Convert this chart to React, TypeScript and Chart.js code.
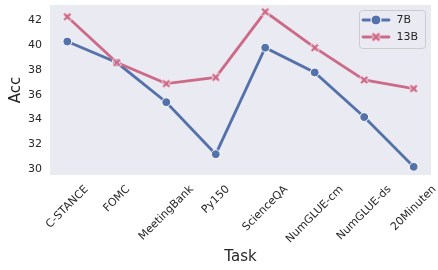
import React, { useEffect, useRef } from "react";
import { Chart, registerables } from "chart.js";
Chart.register(...registerables);

const tasks = ["C-STANCE", "FOMC", "MeetingBank", "Py150", "ScienceQA", "NumGLUE-cm", "NumGLUE-ds", "20Minuten"];
const acc7B = [40.3, 38.6, 35.4, 31.2, 39.8, 37.8, 34.2, 30.18];
const acc13B = [42.3, 38.6, 36.9, 37.4, 42.7, 39.8, 37.2, 36.5];
const yTicks = [30, 32, 34, 36, 38, 40, 42];
const seriesNames = ["7B", "13B"];

const FONT = '"DejaVu Sans", sans-serif';
const TEXT = "#262626";
const BLUE = "#5371AA";
const PINK = "#CC6A88";

function makeX(size: number, color: string): HTMLCanvasElement {
  const c = document.createElement("canvas");
  const dim = Math.ceil(size + 4);
  c.width = dim;
  c.height = dim;
  const ctx = c.getContext("2d")!;
  ctx.translate(dim / 2, dim / 2);
  ctx.rotate(Math.PI / 4);
  const s = size / 6;
  const pts = [[-1, -3], [-1, -1], [-3, -1], [-3, 1], [-1, 1], [-1, 3], [1, 3], [1, 1], [3, 1], [3, -1], [1, -1], [1, -3]];
  ctx.beginPath();
  pts.forEach(([x, y], i) => (i ? ctx.lineTo(x * s, y * s) : ctx.moveTo(x * s, y * s)));
  ctx.closePath();
  ctx.fillStyle = color;
  ctx.fill();
  ctx.strokeStyle = "#ffffff";
  ctx.lineWidth = 0.9;
  ctx.lineJoin = "miter";
  ctx.stroke();
  return c;
}

export default function App() {
  const ref = useRef<HTMLCanvasElement | null>(null);
  useEffect(() => {
    document.body.style.margin = "0";
    const xImg = makeX(9.5, PINK);
    const xImgLegend = makeX(10.5, PINK);

    const bgPlugin = {
      id: "bg",
      beforeDraw(chart: any) {
        const { ctx, chartArea: a } = chart;
        ctx.save();
        ctx.fillStyle = "#EAEAF2";
        ctx.fillRect(a.left, a.top, a.right - a.left, a.bottom - a.top);
        ctx.restore();
      },
    };

    const xLabelPlugin = {
      id: "xlabels",
      afterDraw(chart: any) {
        const { ctx, chartArea: a } = chart;
        const xs = chart.scales.x;
        ctx.save();
        ctx.font = `11px ${FONT}`;
        ctx.fillStyle = TEXT;
        ctx.textAlign = "center";
        ctx.textBaseline = "middle";
        tasks.forEach((t, i) => {
          const px = xs.getPixelForValue(i);
          const w = ctx.measureText(t).width;
          const h = 11 * 1.17;
          const half = ((w + h) * Math.SQRT1_2) / 2;
          const cy = a.bottom + 8 + half;
          ctx.save();
          ctx.translate(px, cy);
          ctx.rotate(-Math.PI / 4);
          ctx.fillText(t, 0, 0);
          ctx.restore();
        });
        ctx.restore();
      },
    };

    const legendPlugin = {
      id: "customLegend",
      afterDraw(chart: any) {
        const { ctx } = chart;
        ctx.save();
        const bx = 359.5, by = 10.5, bw = 66, bh = 38, r = 3;
        ctx.beginPath();
        ctx.moveTo(bx + r, by);
        ctx.lineTo(bx + bw - r, by);
        ctx.arcTo(bx + bw, by, bx + bw, by + r, r);
        ctx.lineTo(bx + bw, by + bh - r);
        ctx.arcTo(bx + bw, by + bh, bx + bw - r, by + bh, r);
        ctx.lineTo(bx + r, by + bh);
        ctx.arcTo(bx, by + bh, bx, by + bh - r, r);
        ctx.lineTo(bx, by + r);
        ctx.arcTo(bx, by, bx + r, by, r);
        ctx.closePath();
        ctx.fillStyle = "rgba(234,234,242,0.8)";
        ctx.fill();
        ctx.strokeStyle = "#CCCCCC";
        ctx.lineWidth = 1;
        ctx.stroke();

        const rows = [20, 37];
        const colors = [BLUE, PINK];
        rows.forEach((y, i) => {
          ctx.beginPath();
          ctx.moveTo(363, y);
          ctx.lineTo(389, y);
          ctx.strokeStyle = colors[i];
          ctx.lineWidth = 2.8;
          ctx.lineCap = "round";
          ctx.stroke();
          if (i === 0) {
            ctx.beginPath();
            ctx.arc(376, y, 5, 0, Math.PI * 2);
            ctx.fillStyle = BLUE;
            ctx.fill();
            ctx.strokeStyle = "#fff";
            ctx.lineWidth = 1;
            ctx.stroke();
          } else {
            ctx.drawImage(xImgLegend, 376 - xImgLegend.width / 2, y - xImgLegend.height / 2);
          }
          ctx.font = `11px ${FONT}`;
          ctx.fillStyle = TEXT;
          ctx.textAlign = "left";
          ctx.textBaseline = "middle";
          ctx.fillText(seriesNames[i], 396.5, y);
        });
        ctx.restore();
      },
    };

    const chart = new Chart(ref.current!, {
      type: "line",
      data: {
        datasets: [
          {
            label: seriesNames[0],
            data: acc7B.map((v, i) => ({ x: i, y: v })),
            borderColor: BLUE,
            backgroundColor: BLUE,
            borderWidth: 2.8,
            pointRadius: 4.4,
            pointBorderColor: "#ffffff",
            pointBorderWidth: 1,
            pointBackgroundColor: BLUE,
            order: 1,
          },
          {
            label: seriesNames[1],
            data: acc13B.map((v, i) => ({ x: i, y: v })),
            borderColor: PINK,
            backgroundColor: PINK,
            borderWidth: 2.8,
            pointStyle: xImg as any,
            pointRadius: 5,
            order: 0,
          },
        ],
      },
      options: {
        responsive: false,
        animation: false,
        layout: { autoPadding: false, padding: { top: 5, right: 7, left: 0, bottom: 0 } },
        plugins: { legend: { display: false }, tooltip: { enabled: false } },
        scales: {
          x: {
            type: "linear",
            min: -0.35,
            max: 7.35,
            grid: { display: false, drawTicks: false },
            border: { display: false },
            ticks: { display: false },
            afterBuildTicks: (s: any) => {
              s.ticks = tasks.map((_, i) => ({ value: i }));
            },
            afterFit: (s: any) => {
              s.height = 95;
              s.paddingLeft = 0;
              s.paddingRight = 0;
            },
            title: {
              display: true,
              text: "Task",
              font: { family: FONT, size: 15 },
              color: TEXT,
              padding: { top: 0, bottom: 4 },
            },
          },
          y: {
            type: "linear",
            min: 29.52,
            max: 43.25,
            grid: { display: false, drawTicks: false },
            border: { display: false },
            afterBuildTicks: (s: any) => {
              s.ticks = yTicks.map((v) => ({ value: v }));
            },
            ticks: { font: { family: FONT, size: 11 }, color: TEXT, padding: 8 },
            afterFit: (s: any) => {
              s.width = 50;
              s.paddingTop = 0;
              s.paddingBottom = 0;
            },
            title: {
              display: true,
              text: "Acc",
              font: { family: FONT, size: 15 },
              color: TEXT,
              padding: { top: 7, bottom: 0 },
            },
          },
        },
      },
      plugins: [bgPlugin, xLabelPlugin, legendPlugin],
    });
    return () => chart.destroy();
  }, []);

  return (
    <div style={{ width: 438, height: 270 }}>
      <canvas ref={ref} width={438} height={270} style={{ display: "block" }} />
    </div>
  );
}
